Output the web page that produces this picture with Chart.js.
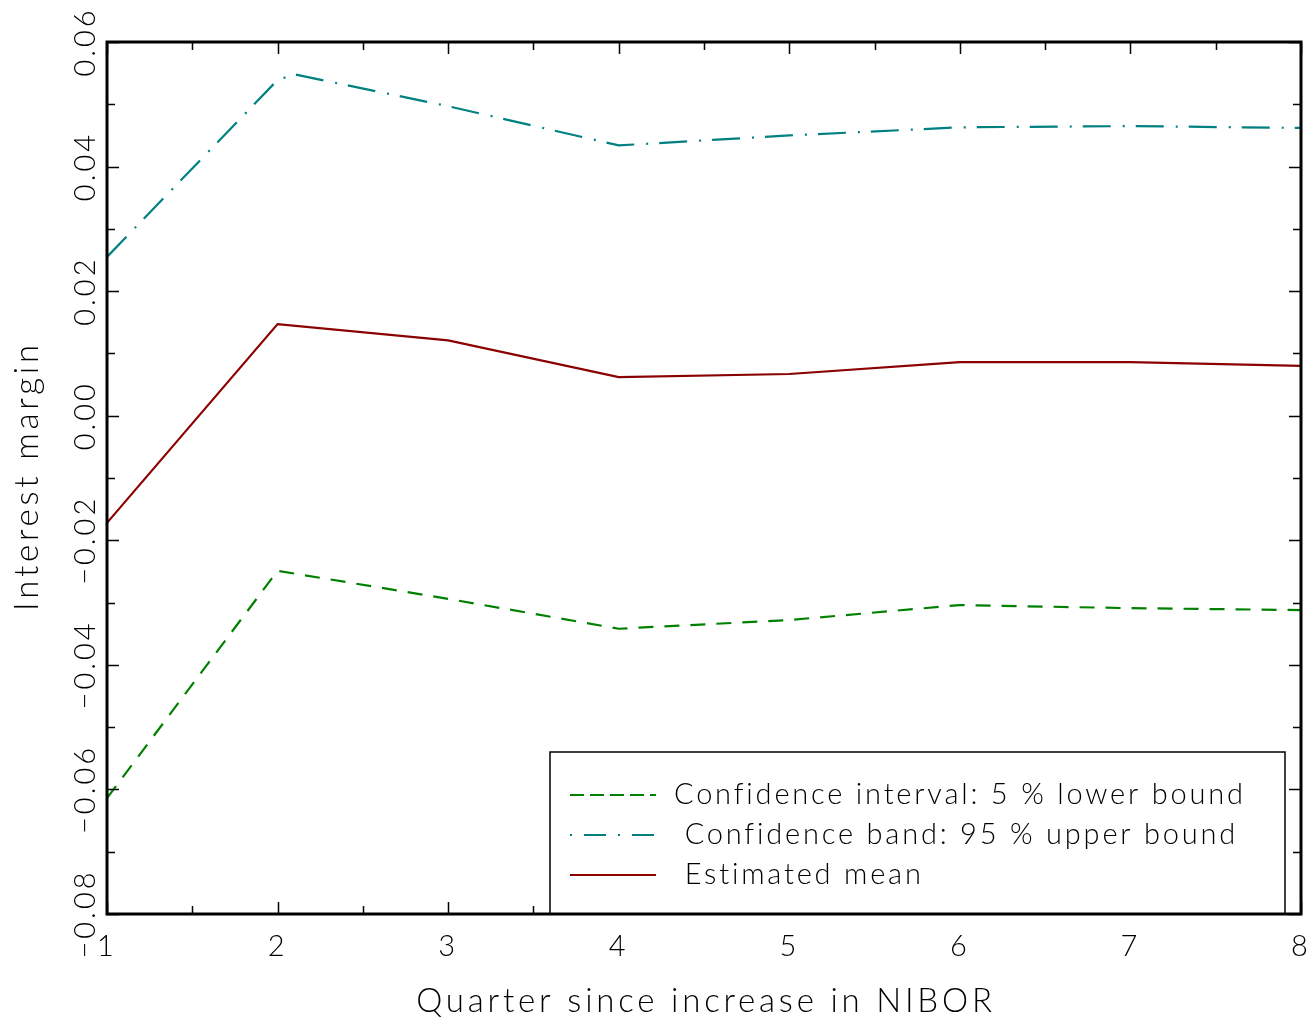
<!DOCTYPE html>
<html>
<head>
<meta charset="utf-8">
<script src="https://cdn.jsdelivr.net/npm/chart.js@4.4.1/dist/chart.umd.min.js"></script>
<style>
  html, body { margin: 0; padding: 0; background: #fff; }
  #wrap { width: 1312px; height: 1021px; }
</style>
</head>
<body>
<div id="wrap"><canvas id="chartMargin"></canvas></div>
<script>
// data
const quarters = [1, 2, 3, 4, 5, 6, 7, 8];
const upperX = [1, 2, 2.1, 3, 4, 5, 6, 7, 8];
const lowerBound = [-0.0614, -0.0249, -0.0294, -0.0342, -0.0328, -0.0304, -0.0309, -0.0312];
const upperBound = [0.0255, 0.0539, 0.0548, 0.0497, 0.0434, 0.0450, 0.0463, 0.0465, 0.0462];
const estimatedMean = [-0.0172, 0.0147, 0.0121, 0.0062, 0.0067, 0.0086, 0.0086, 0.0080];

const yTickValues = [-0.08, -0.06, -0.04, -0.02, 0.00, 0.02, 0.04, 0.06];
const yTickLabels = ['\u22120.08', '\u22120.06', '\u22120.04', '\u22120.02', '0.00', '0.02', '0.04', '0.06'];
const xTickLabels = ['1', '2', '3', '4', '5', '6', '7', '8'];

const seriesLabels = [
    'Confidence interval: 5 % lower bound',
    ' Confidence band: 95 % upper bound',
    ' Estimated mean'
];
const xTitle = 'Quarter since increase in NIBOR';
const yTitle = 'Interest margin';

const FONT = 'Lato, "Liberation Sans", sans-serif';
const toPoints = (xs, ys) => xs.map((x, i) => ({ x: x, y: ys[i] }));

// inward ticks, frame, rotated labels, titles and the boxed legend
const framePlugin = {
    id: 'frame',
    beforeDraw(chart) {
        chart.ctx.letterSpacing = '3px';
    },
    afterDraw(chart) {
        const ctx = chart.ctx;
        const a = chart.chartArea;
        const xs = chart.scales.x, ys = chart.scales.y;
        ctx.save();
        ctx.strokeStyle = '#000';
        ctx.lineWidth = 1.5;
        ctx.beginPath();
        // y ticks (major every 0.02, minor every 0.01)
        for (let k = -8; k <= 6; k++) {
            const py = Math.round(ys.getPixelForValue(k / 100)) + 0.5;
            const len = k % 2 === 0 ? 12 : 8;
            ctx.moveTo(a.left, py); ctx.lineTo(a.left + len, py);
            ctx.moveTo(a.right, py); ctx.lineTo(a.right - len, py);
        }
        // x ticks (major every quarter, minor at halves)
        for (let k = 2; k <= 16; k++) {
            const px = Math.round(xs.getPixelForValue(k / 2)) + 0.5;
            const len = k % 2 === 0 ? 12 : 8;
            ctx.moveTo(px, a.bottom); ctx.lineTo(px, a.bottom - len);
            ctx.moveTo(px, a.top); ctx.lineTo(px, a.top + len);
        }
        ctx.stroke();

        // rotated y tick labels
        ctx.fillStyle = '#000';
        ctx.font = '300 29px ' + FONT;
        ctx.letterSpacing = '3px';
        ctx.textAlign = 'center';
        ctx.textBaseline = 'middle';
        yTickValues.forEach((v, i) => {
            const py = ys.getPixelForValue(v);
            ctx.save();
            ctx.translate(86, py);
            ctx.rotate(-Math.PI / 2);
            ctx.fillText(yTickLabels[i], 0, 0);
            ctx.restore();
        });

        // axis titles
        ctx.font = '300 33px ' + FONT;
        ctx.letterSpacing = '3.8px';
        ctx.fillText(xTitle, (a.left + a.right) / 2 + 2, 1001);
        ctx.save();
        ctx.translate(27, (a.top + a.bottom) / 2);
        ctx.rotate(-Math.PI / 2);
        ctx.fillText(yTitle, 2, 0);
        ctx.restore();

        // legend box
        const box = { left: 550, top: 752, right: 1285, bottom: a.bottom };
        ctx.fillStyle = '#fff';
        ctx.fillRect(box.left, box.top, box.right - box.left, box.bottom - box.top);
        ctx.lineWidth = 1.5;
        ctx.strokeStyle = '#000';
        ctx.strokeRect(box.left, box.top, box.right - box.left, box.bottom - box.top);
        ctx.textAlign = 'left';
        ctx.font = '300 29px ' + FONT;
        ctx.letterSpacing = '2.8px';
        const legendDash = [[14, 6], [2, 12, 22, 12], []];
        chart.data.datasets.forEach((ds, i) => {
            const y = 795 + i * 40;
            ctx.save();
            ctx.strokeStyle = ds.borderColor;
            ctx.lineWidth = ds.borderWidth;
            ctx.setLineDash(legendDash[i]);
            ctx.beginPath();
            ctx.moveTo(570, y); ctx.lineTo(656, y);
            ctx.stroke();
            ctx.restore();
            ctx.fillStyle = '#000';
            ctx.fillText(ds.label, 674, y);
        });

        // frame
        ctx.lineWidth = 3;
        ctx.strokeStyle = '#000';
        ctx.strokeRect(a.left, a.top, a.right - a.left, a.bottom - a.top);
        ctx.restore();
    }
};

document.addEventListener('DOMContentLoaded', () => {
    const ctx = document.getElementById('chartMargin').getContext('2d');
    new Chart(ctx, {
        type: 'line',
        data: {
            datasets: [{
                label: seriesLabels[0],
                data: toPoints(quarters, lowerBound),
                borderColor: '#008000',
                borderDash: [15, 11],
                borderWidth: 2.2
            }, {
                label: seriesLabels[1],
                data: toPoints(upperX, upperBound),
                borderColor: '#008080',
                borderDash: [28, 12, 2, 11],
                borderWidth: 2.2
            }, {
                label: seriesLabels[2],
                data: toPoints(quarters, estimatedMean),
                borderColor: '#8b0000',
                borderWidth: 2.2
            }]
        },
        options: {
            responsive: true,
            maintainAspectRatio: false,
            animation: false,
            layout: { padding: { top: 42, right: 11, left: 0, bottom: 0 } },
            elements: { point: { radius: 0 }, line: { tension: 0 } },
            plugins: { legend: { display: false }, tooltip: { enabled: false } },
            scales: {
                x: {
                    type: 'linear',
                    min: 1,
                    max: 8,
                    grid: { display: false, drawTicks: false },
                    border: { display: false },
                    afterFit: s => { s.height = 107; s.paddingLeft = 0; s.paddingRight = 0; },
                    ticks: {
                        stepSize: 1,
                        padding: 15,
                        color: '#000',
                        font: { family: FONT, size: 29, weight: 300 },
                        callback: (v) => xTickLabels[quarters.indexOf(v)]
                    }
                },
                y: {
                    min: -0.08,
                    max: 0.06,
                    grid: { display: false, drawTicks: false },
                    border: { display: false },
                    afterFit: s => { s.width = 107; s.paddingTop = 0; s.paddingBottom = 0; },
                    ticks: { display: false, stepSize: 0.02 }
                }
            }
        },
        plugins: [framePlugin]
    });
});
</script>
</body>
</html>
